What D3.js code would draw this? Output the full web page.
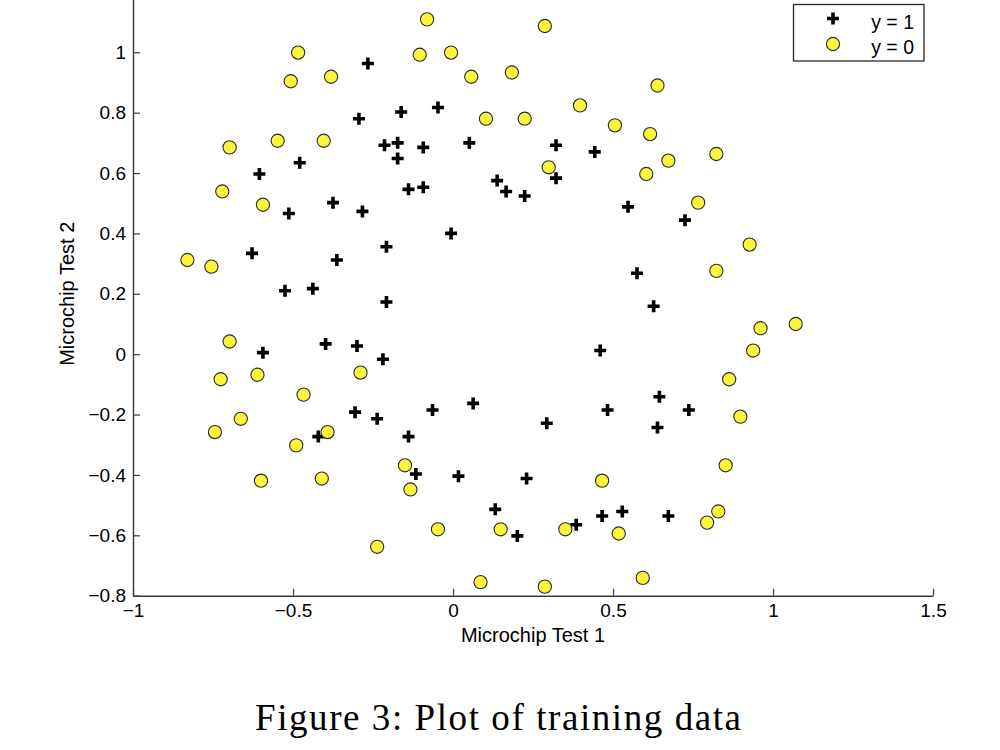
<!DOCTYPE html>
<html>
<head>
<meta charset="utf-8">
<script src="https://cdn.jsdelivr.net/npm/d3@7"></script>
<style>
  body { margin: 0; background: #fff; }
  svg { display: block; }
</style>
</head>
<body>
<script>
var width = 1000;
var height = 750;

// microchip test results [test1, test2]
var accepted = [
  [0.051, 0.700], [-0.093, 0.685], [-0.214, 0.692], [-0.375, 0.502], [-0.513, 0.466],
  [-0.525, 0.210], [-0.398, 0.034], [-0.306, -0.192], [0.017, -0.404], [0.132, -0.514],
  [0.385, -0.565], [0.529, -0.521], [0.639, -0.243], [0.737, -0.185], [0.547, 0.488],
  [0.322, 0.583], [0.166, 0.539], [-0.047, 0.817], [-0.173, 0.700], [-0.479, 0.634],
  [-0.605, 0.597], [-0.628, 0.334], [-0.594, 0.005], [-0.421, -0.273], [-0.116, -0.397],
  [0.201, -0.602], [0.466, -0.536], [0.673, -0.536], [-0.139, 0.546], [-0.294, 0.780],
  [-0.266, 0.963], [-0.162, 0.802], [-0.173, 0.648], [-0.283, 0.473], [-0.363, 0.312],
  [-0.300, 0.027], [-0.237, -0.214], [-0.064, -0.185], [0.063, -0.163], [0.230, -0.412],
  [0.293, -0.229], [0.483, -0.185], [0.645, -0.141], [0.460, 0.012], [0.627, 0.159],
  [0.575, 0.268], [0.725, 0.444], [0.224, 0.524], [0.443, 0.670], [0.322, 0.692],
  [0.138, 0.575], [-0.006, 0.400], [-0.093, 0.553], [-0.208, 0.356], [-0.208, 0.173],
  [-0.438, 0.217], [-0.219, -0.017], [-0.139, -0.273]
];

var rejected = [
  [0.184, 0.933], [0.224, 0.780], [0.299, 0.619], [0.506, 0.758], [0.616, 0.729],
  [0.604, 0.597], [0.766, 0.502], [0.927, 0.363], [0.823, 0.276], [0.961, 0.086],
  [0.938, 0.012], [0.863, -0.083], [0.898, -0.207], [0.852, -0.368], [0.829, -0.521],
  [0.794, -0.558], [0.593, -0.741], [0.518, -0.594], [0.466, -0.419], [0.351, -0.580],
  [0.287, -0.770], [0.086, -0.755], [0.149, -0.580], [-0.133, -0.448], [-0.410, -0.412],
  [-0.392, -0.258], [-0.744, -0.258], [-0.698, 0.042], [-0.755, 0.290], [-0.698, 0.685],
  [-0.404, 0.707], [-0.381, 0.919], [-0.507, 0.904], [-0.548, 0.707], [0.103, 0.780],
  [0.057, 0.919], [-0.104, 0.992], [-0.081, 1.109], [0.287, 1.087], [0.397, 0.824],
  [0.639, 0.890], [0.823, 0.663], [0.673, 0.641], [1.071, 0.100], [-0.047, -0.580],
  [-0.237, -0.638], [-0.150, -0.368], [-0.490, -0.302], [-0.467, -0.134], [-0.289, -0.061],
  [-0.611, -0.068], [-0.663, -0.214], [-0.600, -0.419], [-0.726, -0.083], [-0.830, 0.312],
  [-0.721, 0.539], [-0.594, 0.495], [-0.484, 0.999], [-0.006, 0.999]
];

var xTicks = [-1, -0.5, 0, 0.5, 1, 1.5];
var yTicks = [-0.8, -0.6, -0.4, -0.2, 0, 0.2, 0.4, 0.6, 0.8, 1];
var legendLabels = ['y = 1', 'y = 0'];

var font = '"Liberation Sans", Arial, Helvetica, sans-serif';
var yellow = '#fbf53c';

var svg = d3.select('body')
            .append('svg')
            .attr('width', width)
            .attr('height', height);

var xScale = d3.scaleLinear()
                .domain([-1, 1.5])
                .range([133, 933]);

var yScale = d3.scaleLinear()
                .domain([-0.8, 1.2])
                .range([595.7, -8.1]);

function fmt(d) { return String(d).replace('-', '\u2212'); }

var xAxis = svg.append('g')
    .attr('transform', `translate(0,${yScale(-0.8)})`)
    .call(d3.axisBottom(xScale).tickValues(xTicks).tickFormat(fmt).tickSize(-7).tickSizeOuter(0).tickPadding(8));

var yAxis = svg.append('g')
    .attr('transform', `translate(${xScale(-1)},0)`)
    .call(d3.axisLeft(yScale).tickValues(yTicks).tickFormat(fmt).tickSize(-7).tickSizeOuter(0).tickPadding(7));

[xAxis, yAxis].forEach(function (g) {
  g.select('.domain').attr('stroke', '#3a3a3a').attr('stroke-width', 1.4);
  g.selectAll('.tick line').attr('stroke', '#3a3a3a').attr('stroke-width', 1.2);
  g.selectAll('.tick text')
    .attr('fill', '#000')
    .style('font-family', font)
    .style('font-size', '19px');
});

// axis labels
svg.append('text')
    .attr('x', (xScale(-1) + xScale(1.5)) / 2)
    .attr('y', 642)
    .attr('text-anchor', 'middle')
    .style('font-family', font)
    .style('font-size', '20px')
    .text('Microchip Test 1');

svg.append('text')
    .attr('transform', `translate(74,${(yScale(-0.8) + yScale(1.2)) / 2}) rotate(-90)`)
    .attr('text-anchor', 'middle')
    .style('font-family', font)
    .style('font-size', '20px')
    .text('Microchip Test 2');

var plusPath = 'M-6,0H6M0,-6V6';

svg.selectAll('path.pos')
    .data(accepted)
    .enter()
    .append('path')
    .attr('class', 'pos')
    .attr('d', plusPath)
    .attr('transform', function (d) { return `translate(${xScale(d[0])},${yScale(d[1])})`; })
    .attr('stroke', '#000')
    .attr('stroke-width', 3.6)
    .attr('fill', 'none');

svg.selectAll('circle.neg')
    .data(rejected)
    .enter()
    .append('circle')
    .attr('class', 'neg')
    .attr('cx', function (d) { return xScale(d[0]); })
    .attr('cy', function (d) { return yScale(d[1]); })
    .attr('r', 6.6)
    .attr('fill', yellow)
    .attr('stroke', '#2a2a2a')
    .attr('stroke-width', 1.1);

// legend
var legend = svg.append('g');
legend.append('rect')
    .attr('x', 793.5)
    .attr('y', 4.5)
    .attr('width', 130.5)
    .attr('height', 56.5)
    .attr('fill', '#fff')
    .attr('stroke', '#2a2a2a')
    .attr('stroke-width', 1.3);

legend.append('path')
    .attr('d', plusPath)
    .attr('transform', 'translate(833,18.5)')
    .attr('stroke', '#000')
    .attr('stroke-width', 3.6)
    .attr('fill', 'none');

legend.append('circle')
    .attr('cx', 833)
    .attr('cy', 44)
    .attr('r', 6.6)
    .attr('fill', yellow)
    .attr('stroke', '#2a2a2a')
    .attr('stroke-width', 1.1);

legend.selectAll('text')
    .data(legendLabels)
    .enter()
    .append('text')
    .attr('x', 914)
    .attr('y', function (d, i) { return 28.5 + i * 25; })
    .attr('text-anchor', 'end')
    .style('font-family', font)
    .style('font-size', '19.5px')
    .text(function (d) { return d; });

// caption
svg.append('text')
    .attr('x', 498)
    .attr('y', 730)
    .attr('text-anchor', 'middle')
    .attr('textLength', 486)
    .attr('lengthAdjust', 'spacing')
    .style('font-family', '"Liberation Serif", "Times New Roman", serif')
    .style('font-size', '37px')
    .text('Figure 3: Plot of training data');
</script>
</body>
</html>
